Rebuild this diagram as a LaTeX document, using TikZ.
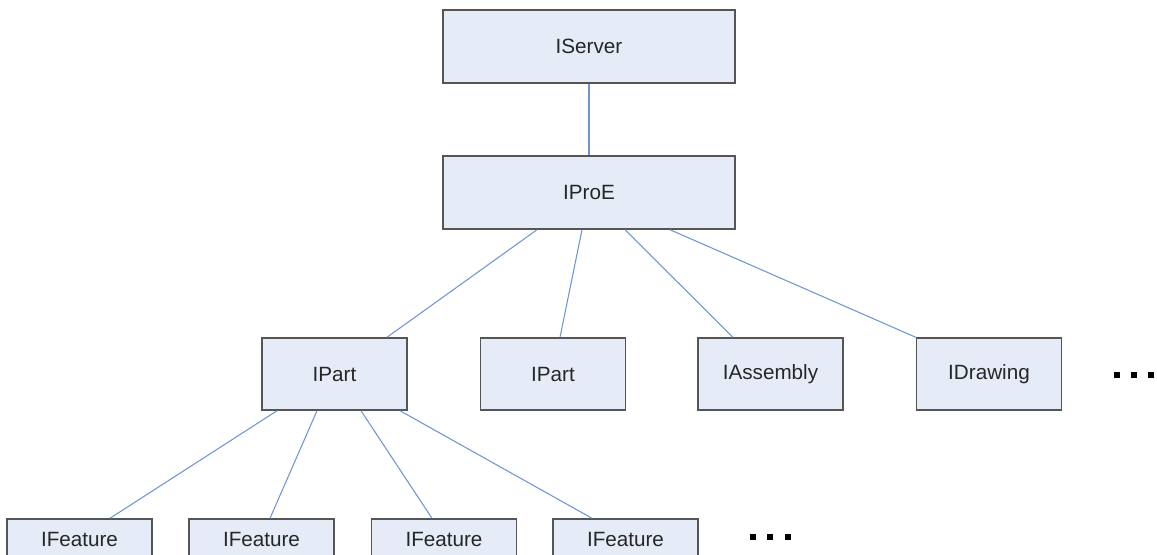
\documentclass[tikz,border=0pt]{standalone}
\usepackage{fontspec}
\setmainfont{Liberation Sans}
\usetikzlibrary{calc}
\definecolor{boxfill}{RGB}{230,236,247}
\definecolor{boxline}{RGB}{85,85,85}
\definecolor{linkblue}{RGB}{112,150,210}
\begin{document}
\begin{tikzpicture}[x=0.75pt,y=-0.75pt,
  box/.style={draw=boxline,fill=boxfill,line width=1.1pt,minimum width=145*0.75pt,minimum height=72*0.75pt,inner sep=0pt,font=\fontsize{15.5}{18}\selectfont,text=black!85},
  wide/.style={box,minimum width=292*0.75pt,minimum height=73*0.75pt},
  cutbox/.style={box,minimum height=44*0.75pt},
  link/.style={draw=linkblue,line width=0.8pt},
  dot/.style={fill=black,inner sep=0pt,minimum size=4.5pt}]
\useasboundingbox (0,0) rectangle (1157,554);
\begin{scope}
\clip (0,0) rectangle (1157,554);
\node[wide] (iserver) at (589,46.5) {IServer};
\node[wide] (iproe) at (589,192.5) {IProE};
\node[box] (ipart1) at (334.5,374) {IPart};
\node[box] (ipart2) at (553,374) {IPart};
\node[box] (iasm) at (770.5,374) {IAssembly};
\node[box] (idraw) at (989,374) {IDrawing};
\node[cutbox] (f1) at (79.5,541) {\raisebox{3pt}{IFeature}};
\node[cutbox] (f2) at (261.5,541) {\raisebox{3pt}{IFeature}};
\node[cutbox] (f3) at (444,541) {\raisebox{3pt}{IFeature}};
\node[cutbox] (f4) at (625.5,541) {\raisebox{3pt}{IFeature}};
\node[dot] (d1) at (1117,375) {};
\node[dot] (d2) at (1134,375) {};
\node[dot] (d3) at (1151,375) {};
\node[dot] (e1) at (753,537) {};
\node[dot] (e2) at (770,537) {};
\node[dot] (e3) at (788,537) {};
\draw[link] (iserver.south) -- (iproe.north);
\draw[link] ($(iproe.south)+(-52,0)$) -- ($(ipart1.north)+(52.5,0)$);
\draw[link] ($(iproe.south)+(-7,0)$) -- ($(ipart2.north)+(7,0)$);
\draw[link] ($(iproe.south)+(36,0)$) -- ($(iasm.north)+(-37.5,0)$);
\draw[link] ($(iproe.south)+(81,0)$) -- (idraw.north west);
\draw[link] ($(ipart1.south)+(-57.5,0)$) -- ($(f1.north)+(30.5,0)$);
\draw[link] ($(ipart1.south)+(-17.5,0)$) -- ($(f2.north)+(8.5,0)$);
\draw[link] ($(ipart1.south)+(26.5,0)$) -- ($(f3.north)+(-12,0)$);
\draw[link] ($(ipart1.south)+(65.5,0)$) -- ($(f4.north)+(-33.5,0)$);
\end{scope}
\end{tikzpicture}
\end{document}
